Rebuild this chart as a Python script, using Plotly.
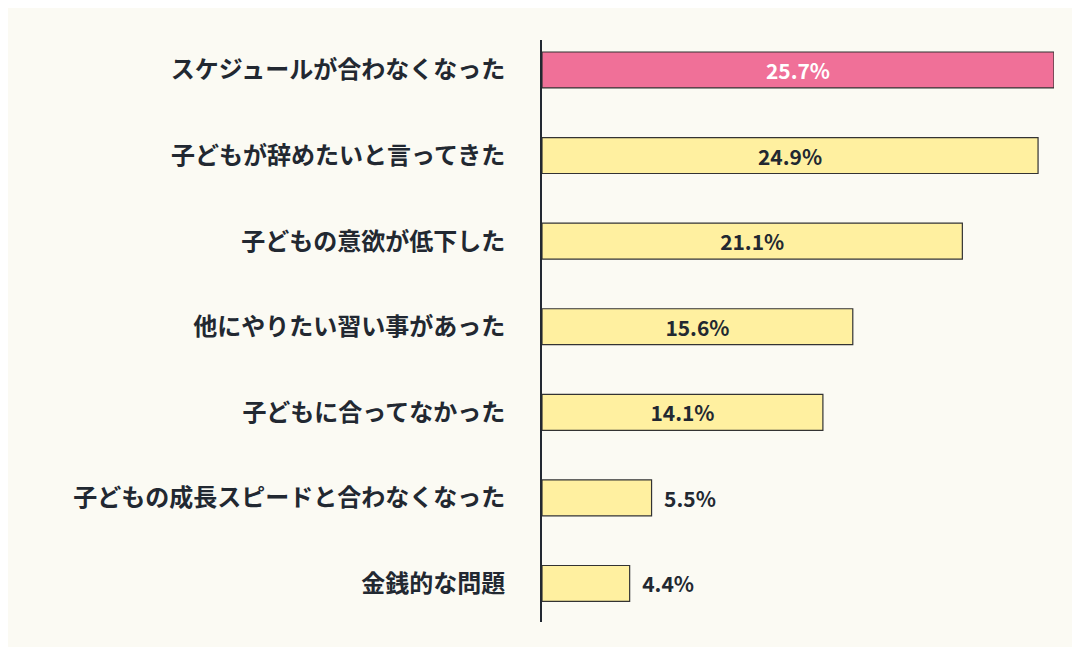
import plotly.graph_objects as go

categories = ["スケジュールが合わなくなった", "子どもが辞めたいと言ってきた", "子どもの意欲が低下した",
              "他にやりたい習い事があった", "子どもに合ってなかった", "子どもの成長スピードと合わなくなった", "金銭的な問題"]
values = [25.7, 24.9, 21.1, 15.6, 14.1, 5.5, 4.4]
labels = [f"{v}%" if v > 10 else f"  {v}%" for v in values]

colors = ["#F07098"] + ["#FFF0A0"] * 6
text_colors = ["white"] + ["#222831"] * 6
positions = ["inside" if v > 10 else "outside" for v in values]

fig = go.Figure(go.Bar(
    x=values, y=categories, orientation="h", width=0.42,
    marker=dict(color=colors, line=dict(color="#333333", width=1.2)),
    text=labels, textposition=positions, insidetextanchor="middle",
    textfont=dict(color=text_colors, size=21, family="Noto Sans CJK JP"),
    cliponaxis=False,
))

fig.update_layout(
    width=1080, height=647,
    paper_bgcolor="#FBFAF3", plot_bgcolor="#FBFAF3",
    margin=dict(l=534, r=34, t=32, b=33),
    font=dict(family="Noto Sans CJK JP", size=20, color="#222831"),
    showlegend=False,
    xaxis=dict(range=[0, 25.7], visible=False),
    yaxis=dict(autorange=False, range=[6.45, -0.35], showline=True, linecolor="#222831",
               linewidth=2, ticks="", ticklabelstandoff=30, showgrid=False,
               tickfont=dict(size=24, family="Noto Sans CJK JP", weight="bold")),
)
fig.update_traces(textfont_weight="bold")

fig.write_html("out.html")
